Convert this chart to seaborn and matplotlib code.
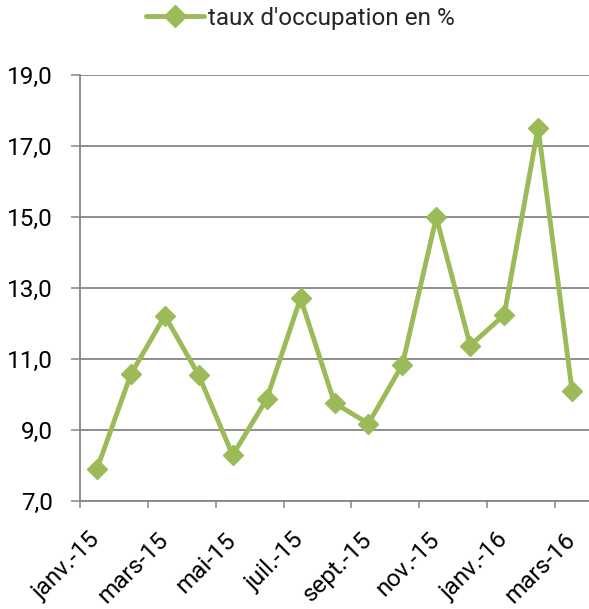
import matplotlib
matplotlib.use("Agg")
import matplotlib.pyplot as plt
import matplotlib.ticker as mticker
import seaborn as sns
import pandas as pd

# --- données ---
mois = ["janv.-15", "févr.-15", "mars-15", "avr.-15", "mai-15", "juin-15",
        "juil.-15", "août-15", "sept.-15", "oct.-15", "nov.-15", "déc.-15",
        "janv.-16", "févr.-16", "mars-16"]
taux = [7.9, 10.57, 12.22, 10.54, 8.29, 9.87, 12.71, 9.76, 9.18, 10.84,
        14.99, 11.38, 12.24, 17.52, 10.11]
serie = "taux d'occupation en %"
y_ticks = [7.0, 9.0, 11.0, 13.0, 15.0, 17.0, 19.0]

df = pd.DataFrame({"mois": mois, "taux": taux})

GREEN = "#9BBB59"
GREY = "#868686"
FS = 17.5

sns.set_style("white")
plt.rcParams["font.family"] = ["Roboto", "DejaVu Sans"]

fig = plt.figure(figsize=(5.89, 6.09), dpi=100)
ax = fig.add_axes([80 / 589, 1 - 501 / 609, 1 - 80 / 589, (501 - 75) / 609])

sns.lineplot(data=df, x="mois", y="taux", ax=ax, color=GREEN, lw=3.5,
             marker="D", markersize=9.8, markeredgecolor=GREEN,
             markeredgewidth=1, label=serie, sort=False)

# axe y
ax.set_ylim(y_ticks[0], y_ticks[-1])
ax.set_yticks(y_ticks)
ax.yaxis.set_major_formatter(mticker.FuncFormatter(lambda v, p: f"{v:.1f}".replace(".", ",")))
ax.yaxis.grid(True, color=GREY, lw=1.3)
ax.tick_params(axis="y", length=6.5, width=1.1, color=GREY, pad=13,
               labelsize=FS, labelcolor="black", left=True)

# axe x : graduations entre les catégories, étiquettes une sur deux
n = len(mois)
ax.set_xlim(-0.5, n - 0.5)
ax.xaxis.set_major_locator(mticker.FixedLocator([i - 0.5 for i in range(0, n, 2)]))
ax.xaxis.set_major_formatter(mticker.NullFormatter())
ax.xaxis.set_minor_locator(mticker.FixedLocator(list(range(0, n, 2))))
ax.xaxis.set_minor_formatter(mticker.FixedFormatter(mois[::2]))
ax.tick_params(axis="x", which="major", length=5, width=1.1, color=GREY,
               bottom=True)
ax.tick_params(axis="x", which="minor", length=0, pad=25.5, labelsize=FS,
               labelcolor="black", labelrotation=45, bottom=True)
for lab in ax.get_xticklabels(minor=True):
    lab.set_ha("right")
    lab.set_va("center")
    lab.set_rotation_mode("anchor")
ax.set_xlabel("")
ax.set_ylabel("")

for s in ["top", "right"]:
    ax.spines[s].set_visible(False)
for s in ["left", "bottom"]:
    ax.spines[s].set_color(GREY)
    ax.spines[s].set_linewidth(1.3)

ax.legend(loc="center", bbox_to_anchor=(0.51, 1 - 18 / 609),
          bbox_transform=fig.transFigure, frameon=False, fontsize=FS,
          handlelength=2.4, handletextpad=0.15, markerscale=1.15)

fig.savefig("out.png", dpi=100)
